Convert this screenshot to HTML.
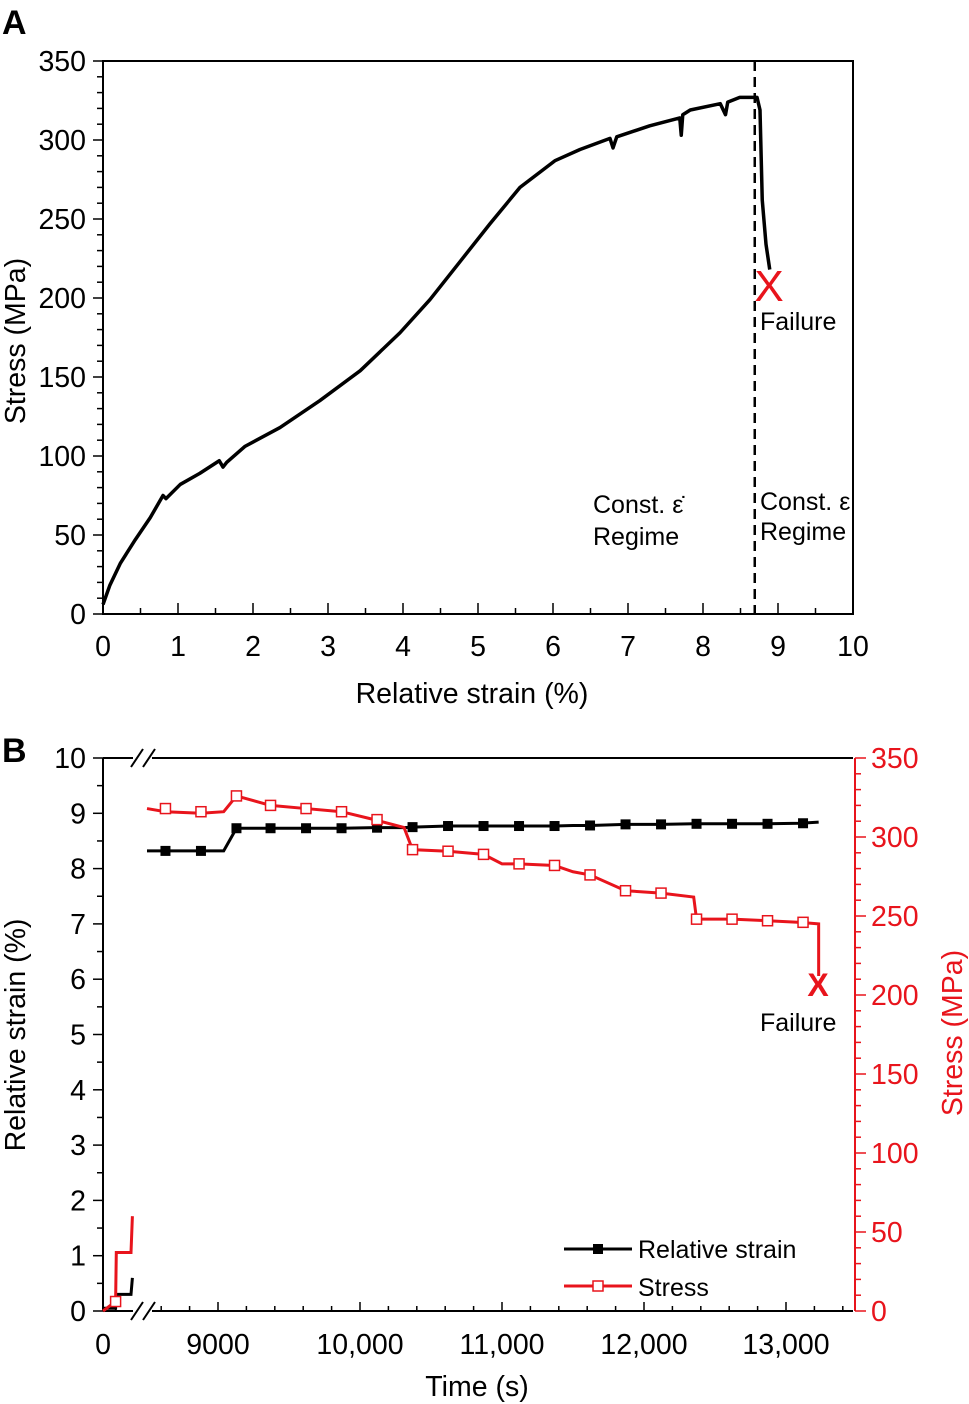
<!DOCTYPE html>
<html><head><meta charset="utf-8"><style>
body{margin:0;background:#fff}
svg{display:block;font-family:"Liberation Sans",sans-serif}
</style></head><body>
<svg id="s" width="969" height="1404" viewBox="0 0 969 1404">
<text x="2" y="34" font-size="34" font-weight="bold">A</text>
<text x="2" y="762" font-size="34" font-weight="bold">B</text>
<g id="ga"></g>
<g id="gb"></g>
</svg>
<script>
// Panel A data
const aStrain=[0,0.09,0.23,0.43,0.63,0.8,0.84,1.03,1.29,1.55,1.6,1.65,1.89,2.36,2.89,3.43,3.96,4.36,4.76,5.16,5.56,6.03,6.36,6.76,6.8,6.85,7.29,7.69,7.71,7.73,7.83,8.23,8.3,8.33,8.49,8.72,8.76,8.79,8.84,8.89];
const aStress=[6,18,32,47,61,75,73,82,89,97,93,96,106,118,135,154,178,199,223,247,270,287,294,301,295,302,309,314,303,316,319,323,316,324,327,327,319,262,234,218];
const aXTicks=[0,1,2,3,4,5,6,7,8,9,10];
const aYTicks=[0,50,100,150,200,250,300,350];
// Panel B data
const bTime=[8500,8630,8880,9040,9130,9370,9620,9870,10100,10310,10370,10620,10870,11000,11120,11370,11500,11620,11870,12120,12350,12370,12620,12870,13100,13230];
const bStrain=[8.32,8.32,8.32,8.32,8.73,8.73,8.73,8.73,8.74,8.74,8.75,8.77,8.77,8.77,8.77,8.77,8.78,8.78,8.8,8.8,8.81,8.81,8.81,8.81,8.82,8.84];
const bStress=[318,316,315,316,326,320,318,316,311,306,292,291,289,283,283,282,278,276,266,264.5,262,248,248,247,246,245];
const bMarkT=[8630,8880,9130,9370,9620,9870,10120,10370,10620,10870,11120,11370,11620,11870,12120,12370,12620,12870,13120];
const bMarkStrain=[8.32,8.32,8.73,8.73,8.73,8.73,8.74,8.75,8.77,8.77,8.77,8.77,8.78,8.8,8.8,8.81,8.81,8.81,8.82];
const bMarkStress=[318,316,326,320,318,316,311,292,291,289,283,282,276,266,264.5,248,248,247,246];
const earlyTime=[0,90,95,200,210];
const earlyStrain=[0.05,0.05,0.3,0.3,0.6];
const earlyStress=[0,6,37,37,60];
const bXTicks=[9000,10000,11000,12000,13000];
const bXLabels=["9000","10,000","11,000","12,000","13,000"];
const bYTicks=[0,1,2,3,4,5,6,7,8,9,10];
const bY2Ticks=[0,50,100,150,200,250,300,350];

const NS="http://www.w3.org/2000/svg";
const FS=28.5, FA=25;
function el(p,t,a){const e=document.createElementNS(NS,t);for(const k in a)e.setAttribute(k,a[k]);p.appendChild(e);return e;}
function txt(p,x,y,s,a){const e=el(p,"text",Object.assign({x:x,y:y},a));e.textContent=s;return e;}

// ===== Panel A =====
const ga=document.getElementById("ga");
const ax=v=>103+v*75, ay=v=>614-v*553/350;
let f=el(ga,"rect",{x:103,y:61,width:750,height:553,fill:"none",stroke:"#000","stroke-width":2});


for(let v=0;v<=10;v+=0.5){const l=el(ga,"line",{x1:ax(v),x2:ax(v),y1:614,y2:v%1===0?603:608,stroke:"#000","stroke-width":1.5});

}
for(let v=0;v<=350;v+=10){const l=el(ga,"line",{x1:v%50===0?93:97,x2:103,y1:ay(v),y2:ay(v),stroke:"#000","stroke-width":1.5});

}
aXTicks.forEach(v=>{const t=txt(ga,ax(v),656,String(v),{"font-size":FS,"text-anchor":"middle"});

});
aYTicks.forEach(v=>{const t=txt(ga,86,ay(v)+10,String(v),{"font-size":FS,"text-anchor":"end"});

});
let t=txt(ga,472,703,"Relative strain (%)",{"font-size":FS,"text-anchor":"middle"});


t=txt(ga,0,0,"Stress (MPa)",{"font-size":FS,"text-anchor":"middle",transform:"translate(25,341) rotate(-90)"});


let p=el(ga,"polyline",{points:aStrain.map((v,i)=>ax(v)+","+ay(aStress[i])).join(" "),fill:"none",stroke:"#000","stroke-width":3.5,"stroke-linejoin":"round"});


let d=el(ga,"line",{x1:ax(8.69),x2:ax(8.69),y1:61,y2:614,stroke:"#000","stroke-width":2.5,"stroke-dasharray":"10,6"});


t=txt(ga,769,301,"X",{"font-size":44,fill:"#e8141c","text-anchor":"middle"});


t=txt(ga,760,330,"Failure",{"font-size":FA});


t=txt(ga,593,513,"Const. ε̇",{"font-size":FA});


t=txt(ga,593,545,"Regime",{"font-size":FA});


t=txt(ga,760,510,"Const. ε",{"font-size":FA});


t=txt(ga,760,540,"Regime",{"font-size":FA});



// ===== Panel B =====
const gb=document.getElementById("gb");
const bx=v=>218+(v-9000)*0.142, ex=v=>103+v*0.14;
const by=v=>1311-v*55.3, by2=v=>1311-v*553/350;
const RED="#e8141c";
[[103,1311,133,1311],[152,1311,853,1311],[103,758,133,758],[152,758,853,758],[103,758,103,1311]].forEach(a=>{const l=el(gb,"line",{x1:a[0],y1:a[1],x2:a[2],y2:a[3],stroke:"#000","stroke-width":2});

});
let r=el(gb,"line",{x1:855,y1:758,x2:855,y2:1311,stroke:RED,"stroke-width":2});


[[758],[1311]].forEach(a=>{[131,143].forEach(x0=>{const l=el(gb,"line",{x1:x0,y1:a[0]+9,x2:x0+12,y2:a[0]-9,stroke:"#000","stroke-width":2});

});});
for(let v=0;v<=10;v+=0.5){const l=el(gb,"line",{x1:v%1===0?93:97,x2:103,y1:by(v),y2:by(v),stroke:"#000","stroke-width":1.5});

}
for(let v=0;v<=350;v+=10){const l=el(gb,"line",{x1:855,x2:v%50===0?866:861,y1:by2(v),y2:by2(v),stroke:RED,"stroke-width":1.5});

}
[0,90].forEach(v=>{const l=el(gb,"line",{x1:ex(v),x2:ex(v),y1:1311,y2:1302,stroke:"#000","stroke-width":1.5});

});
for(let v=8600;v<=13400;v+=200){const l=el(gb,"line",{x1:bx(v),x2:bx(v),y1:1311,y2:v%1000===0?1302:1306,stroke:"#000","stroke-width":1.5});

}
t=txt(gb,103,1354,"0",{"font-size":FS,"text-anchor":"middle"});


bXTicks.forEach((v,i)=>{const t=txt(gb,bx(v),1354,bXLabels[i],{"font-size":FS,"text-anchor":"middle"});

});
bYTicks.forEach(v=>{const t=txt(gb,86,by(v)+10,String(v),{"font-size":FS,"text-anchor":"end"});

});
bY2Ticks.forEach(v=>{const t=txt(gb,871,by2(v)+10,String(v),{"font-size":FS,fill:RED});

});
t=txt(gb,477,1396,"Time (s)",{"font-size":FS,"text-anchor":"middle"});


t=txt(gb,0,0,"Relative strain (%)",{"font-size":FS,"text-anchor":"middle",transform:"translate(25,1035) rotate(-90)"});


t=txt(gb,0,0,"Stress (MPa)",{"font-size":FS,"text-anchor":"middle",fill:RED,transform:"translate(962,1033) rotate(-90)"});


// early segments
p=el(gb,"polyline",{points:earlyTime.map((v,i)=>ex(v)+","+by(earlyStrain[i])).join(" "),fill:"none",stroke:"#000","stroke-width":3});


p=el(gb,"polyline",{points:earlyTime.map((v,i)=>ex(v)+","+by2(earlyStress[i])).join(" "),fill:"none",stroke:RED,"stroke-width":3});


let q=el(gb,"rect",{x:ex(earlyTime[1])-5,y:by2(earlyStress[1])-5,width:10,height:10,fill:"#fff",stroke:RED,"stroke-width":1.5});


// main lines
p=el(gb,"polyline",{points:bTime.map((v,i)=>bx(v)+","+by(bStrain[i])).join(" "),fill:"none",stroke:"#000","stroke-width":3});


p=el(gb,"polyline",{points:bTime.map((v,i)=>bx(v)+","+by2(bStress[i])).join(" ")+" "+bx(13230)+","+by2(212),fill:"none",stroke:RED,"stroke-width":3});


bMarkT.forEach((v,i)=>{const m=el(gb,"rect",{x:bx(v)-5,y:by(bMarkStrain[i])-5,width:10,height:10,fill:"#000"});


const n=el(gb,"rect",{x:bx(v)-5,y:by2(bMarkStress[i])-5,width:10,height:10,fill:"#fff",stroke:RED,"stroke-width":1.5});

});
t=txt(gb,818,996,"X",{"font-size":32,"font-weight":"bold",fill:RED,"text-anchor":"middle"});


t=txt(gb,760,1031,"Failure",{"font-size":FA});


// legend
let lg=el(gb,"g",{});


el(lg,"line",{x1:564,x2:632,y1:1249,y2:1249,stroke:"#000","stroke-width":3});
el(lg,"rect",{x:593,y:1244,width:10,height:10,fill:"#000"});
t=txt(lg,638,1258,"Relative strain",{"font-size":FA});


el(lg,"line",{x1:564,x2:632,y1:1286,y2:1286,stroke:RED,"stroke-width":3});
el(lg,"rect",{x:593,y:1281,width:10,height:10,fill:"#fff",stroke:RED,"stroke-width":1.5});
t=txt(lg,638,1296,"Stress",{"font-size":FA});


</script>
</body></html>
